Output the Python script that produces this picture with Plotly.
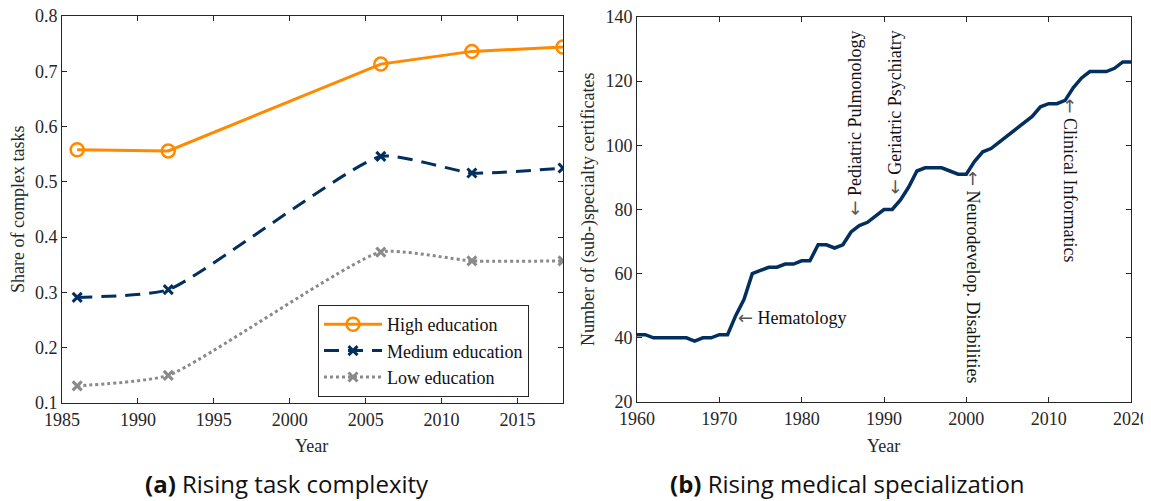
import plotly.graph_objects as go

# the page body has an 8px margin, so the figure is shifted by that much
W, H = 1151, 501
OFF = 8
FW, FH = W - OFF, H - OFF

# panel (a): share of complex tasks
years_a = [1986, 1992, 2006, 2012, 2018]
high_edu = [0.558, 0.556, 0.713, 0.736, 0.744]
medium_edu = [0.291, 0.305, 0.546, 0.516, 0.525]
low_edu = [0.131, 0.150, 0.373, 0.357, 0.357]

# panel (b): number of (sub-)specialty certificates
years_b = list(range(1960, 2021))
certificates = [
    41, 41, 40, 40, 40, 40, 40, 39, 40, 40,
    41, 41, 47, 52, 60, 61, 62, 62, 63, 63,
    64, 64, 69, 69, 68, 69, 73, 75, 76, 78,
    80, 80, 83, 87, 92, 93, 93, 93, 92, 91,
    91, 95, 98, 99, 101, 103, 105, 107, 109, 112,
    113, 113, 114, 118, 121, 123, 123, 123, 124, 126,
    126,
]

ORANGE = "#FF8A00"
NAVY = "#032F5F"
GRAY = "#8A8A8A"
INK = "#262626"
SERIF = "Liberation Serif, Times New Roman, serif"
SANS = "Open Sans, Noto Sans, sans-serif"
ARROW = '<span style="font-family:DejaVu Sans;color:#555">←</span>'


def px_x(p):
    return (p - OFF) / FW


def px_y(p):
    return 1 - (p - OFF) / FH


fig = go.Figure()

fig.add_trace(go.Scatter(
    x=years_a, y=high_edu, name="High education", mode="lines+markers",
    line=dict(color=ORANGE, width=3),
    marker=dict(symbol="circle-open", size=13, color=ORANGE, line=dict(width=2.5)),
    xaxis="x", yaxis="y",
))
fig.add_trace(go.Scatter(
    x=years_a, y=medium_edu, name="Medium education", mode="lines+markers",
    line=dict(color=NAVY, width=3, dash="15px,9px", shape="spline", smoothing=0.5),
    marker=dict(symbol="x-thin-open", size=9, color=NAVY, line=dict(width=3, color=NAVY)),
    xaxis="x", yaxis="y",
))
fig.add_trace(go.Scatter(
    x=years_a, y=low_edu, name="Low education", mode="lines+markers",
    line=dict(color=GRAY, width=3, dash="3px,3px", shape="spline", smoothing=0.5),
    marker=dict(symbol="x-thin-open", size=9, color=GRAY, line=dict(width=3, color=GRAY)),
    xaxis="x", yaxis="y",
))
fig.add_trace(go.Scatter(
    x=years_b, y=certificates, mode="lines", showlegend=False,
    line=dict(color=NAVY, width=3.5),
    xaxis="x2", yaxis="y2",
))

axis_style = dict(
    showline=True, linecolor=INK, linewidth=1, mirror="ticks",
    ticks="inside", ticklen=5, tickcolor=INK, showgrid=False, zeroline=False,
    automargin=False, ticklabeloverflow="allow",
    tickfont=dict(family=SERIF, size=18, color=INK),
)

fig.update_layout(
    width=FW, height=FH, autosize=False,
    margin=dict(l=0, r=0, t=0, b=0),
    paper_bgcolor="white", plot_bgcolor="white",
    xaxis=dict(domain=[px_x(62), px_x(563)], range=[1985, 2018], dtick=5,
               anchor="y", **axis_style),
    yaxis=dict(domain=[px_y(403), px_y(16)], range=[0.1, 0.8], dtick=0.1,
               tickformat=".1f", anchor="x", **axis_style),
    xaxis2=dict(domain=[px_x(637), px_x(1131)], range=[1960, 2020], dtick=10,
                anchor="y2", **axis_style),
    yaxis2=dict(domain=[px_y(402), px_y(17)], range=[20, 140], dtick=20,
                anchor="x2", **axis_style),
    legend=dict(
        x=px_x(318), y=px_y(305), xanchor="left", yanchor="top",
        bgcolor="white", bordercolor=INK, borderwidth=1,
        font=dict(family=SERIF, size=18, color="#111"),
        tracegroupgap=0, itemwidth=58,
    ),
)

labels = [
    # axis titles
    dict(text="Year", x=px_x(311), y=px_y(446), textangle=0),
    dict(text="Year", x=px_x(883), y=px_y(446), textangle=0),
    dict(text="Share of complex tasks", x=px_x(18), y=px_y(210), textangle=-90),
    dict(text="Number of (sub-)specialty certificates", x=px_x(588), y=px_y(210),
         textangle=-90),
]
for a in labels:
    fig.add_annotation(xref="paper", yref="paper", showarrow=False,
                       xanchor="center", yanchor="middle",
                       font=dict(family=SERIF, size=18, color=INK), **a)

# specialty annotations on panel (b)
notes = [
    dict(text=ARROW + " Hematology", x=1972.0, y=46.2, textangle=0,
         xanchor="left", yanchor="middle"),
    dict(text=ARROW + " Pediatric Pulmonology", x=1986.3, y=77.5, textangle=-90,
         xanchor="center", yanchor="bottom"),
    dict(text=ARROW + " Geriatric Psychiatry", x=1991.3, y=84.0, textangle=-90,
         xanchor="center", yanchor="bottom"),
    dict(text=ARROW + " Neurodevelop. Disabilities", x=2000.8, y=92.5, textangle=90,
         xanchor="center", yanchor="top"),
    dict(text=ARROW + " Clinical Informatics", x=2012.6, y=115.2, textangle=90,
         xanchor="center", yanchor="top"),
]
for a in notes:
    fig.add_annotation(xref="x2", yref="y2", showarrow=False,
                       font=dict(family=SERIF, size=18, color="#111"), **a)

# panel captions
for text, xc in [("<b>(a)</b> Rising task complexity", 287),
                 ("<b>(b)</b> Rising medical specialization", 847)]:
    fig.add_annotation(xref="paper", yref="paper", x=px_x(xc), y=px_y(483),
                       xanchor="center", yanchor="middle",
                       text=text, showarrow=False,
                       font=dict(family=SANS, size=24, color="#111"))

fig.write_html("out.html")
